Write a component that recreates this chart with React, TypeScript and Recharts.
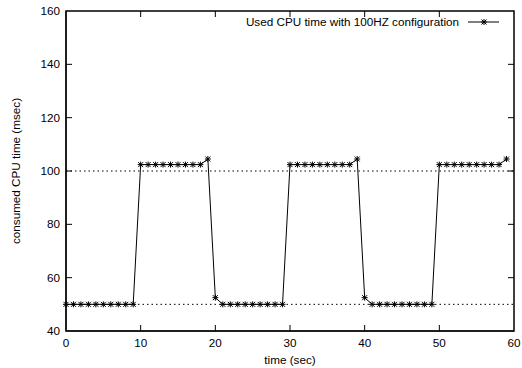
import { LineChart, Line, XAxis, YAxis, ReferenceLine, ReferenceArea } from "recharts";

const times = [
  0, 1, 2, 3, 4, 5, 6, 7, 8, 9, 10, 11, 12, 13, 14, 15, 16, 17, 18, 19,
  20, 21, 22, 23, 24, 25, 26, 27, 28, 29, 30, 31, 32, 33, 34, 35, 36, 37, 38, 39,
  40, 41, 42, 43, 44, 45, 46, 47, 48, 49, 50, 51, 52, 53, 54, 55, 56, 57, 58, 59,
];

const cpuTime = [
  50, 50, 50, 50, 50, 50, 50, 50, 50, 50,
  102.4, 102.4, 102.4, 102.4, 102.4, 102.4, 102.4, 102.4, 102.4, 104.5,
  52.5, 50, 50, 50, 50, 50, 50, 50, 50, 50,
  102.4, 102.4, 102.4, 102.4, 102.4, 102.4, 102.4, 102.4, 102.4, 104.5,
  52.5, 50, 50, 50, 50, 50, 50, 50, 50, 50,
  102.4, 102.4, 102.4, 102.4, 102.4, 102.4, 102.4, 102.4, 102.4, 104.5,
];

const xTicks = [0, 10, 20, 30, 40, 50, 60];
const yTicks = [40, 60, 80, 100, 120, 140, 160];
const refLevels = [50, 100];
const seriesName = "Used CPU time with 100HZ configuration";

const data = times.map((t, i) => ({ t, cpu: cpuTime[i] }));

const FONT = "'Liberation Sans', Arial, sans-serif";
const FS = 11.7;
// plot box size (chart 522x368 minus axes/margins)
const PLOT_W = 448;
const PLOT_H = 320;

const Star = (props: any) => {
  const { cx, cy } = props;
  if (cx == null || cy == null) return null;
  return (
    <path
      d={`M${cx - 3},${cy}H${cx + 3}M${cx},${cy - 3}V${cy + 3}M${cx - 2.5},${cy - 2.5}L${cx + 2.5},${cy + 2.5}M${cx - 2.5},${cy + 2.5}L${cx + 2.5},${cy - 2.5}`}
      stroke="#000"
      strokeWidth={1}
      fill="none"
    />
  );
};

// gnuplot-style: ticks point inward, mirrored on the top edge
const BottomTick = (props: any) => {
  const { x, y, payload, index } = props;
  const inner = index > 0 && index < xTicks.length - 1;
  return (
    <g>
      {inner && <line x1={x} y1={y} x2={x} y2={y - 6} stroke="#000" />}
      {inner && <line x1={x} y1={y - PLOT_H} x2={x} y2={y - PLOT_H + 6} stroke="#000" />}
      <text x={x} y={y + 16} textAnchor="middle" fontSize={FS} fontFamily={FONT} fill="#000">
        {payload.value}
      </text>
    </g>
  );
};

// ticks inward, mirrored on the right edge
const LeftTick = (props: any) => {
  const { x, y, payload, index } = props;
  const inner = index > 0 && index < yTicks.length - 1;
  return (
    <g>
      {inner && <line x1={x} y1={y} x2={x + 6} y2={y} stroke="#000" />}
      {inner && <line x1={x + PLOT_W} y1={y} x2={x + PLOT_W - 6} y2={y} stroke="#000" />}
      <text x={x - 6} y={y + 4} textAnchor="end" fontSize={FS} fontFamily={FONT} fill="#000">
        {payload.value}
      </text>
    </g>
  );
};

export default function App() {
  return (
    <div style={{ position: "absolute", left: 0, top: 0, width: 522, height: 368, background: "#fff" }}>
      <LineChart width={522} height={368} data={data} margin={{ top: 11, right: 8, bottom: 0, left: 0 }}>
        <XAxis
          dataKey="t"
          type="number"
          domain={[0, 60]}
          ticks={xTicks}
          height={37}
          tickSize={0}
          tickMargin={0}
          tickLine={false}
          axisLine={{ stroke: "#000" }}
          tick={BottomTick}
          interval={0}
          label={{
            content: () => (
              <text x={290} y={364} textAnchor="middle" fontSize={FS} fontFamily={FONT} fill="#000">
                time (sec)
              </text>
            ),
          }}
        />
        <YAxis
          type="number"
          domain={[40, 160]}
          ticks={yTicks}
          width={66}
          tickSize={0}
          tickMargin={0}
          tickLine={false}
          axisLine={{ stroke: "#000" }}
          tick={LeftTick}
          interval={0}
          label={{
            content: () => (
              <text
                x={20}
                y={171}
                textAnchor="middle"
                fontSize={FS}
                fontFamily={FONT}
                fill="#000"
                transform="rotate(-90 20 171)"
              >
                consumed CPU time (msec)
              </text>
            ),
          }}
        />
        <ReferenceArea x1={0} x2={60} y1={40} y2={160} fill="none" stroke="#000" strokeWidth={1.5} />
        {refLevels.map((v) => (
          <ReferenceLine key={v} y={v} stroke="#000" strokeWidth={1} strokeDasharray="1.5 3" />
        ))}
        <Line
          dataKey="cpu"
          name={seriesName}
          stroke="#000"
          strokeWidth={1}
          dot={<Star />}
          activeDot={false}
          isAnimationActive={false}
          type="linear"
        />
      </LineChart>
      <div
        style={{
          position: "absolute",
          top: 15,
          right: 22,
          display: "flex",
          alignItems: "center",
          fontFamily: FONT,
          fontSize: FS,
          color: "#000",
        }}
      >
        <span>{seriesName}</span>
        <svg width={33} height={10} style={{ marginLeft: 8 }}>
          <line x1={1} y1={5} x2={32} y2={5} stroke="#000" />
          <Star cx={17} cy={5} />
        </svg>
      </div>
    </div>
  );
}
